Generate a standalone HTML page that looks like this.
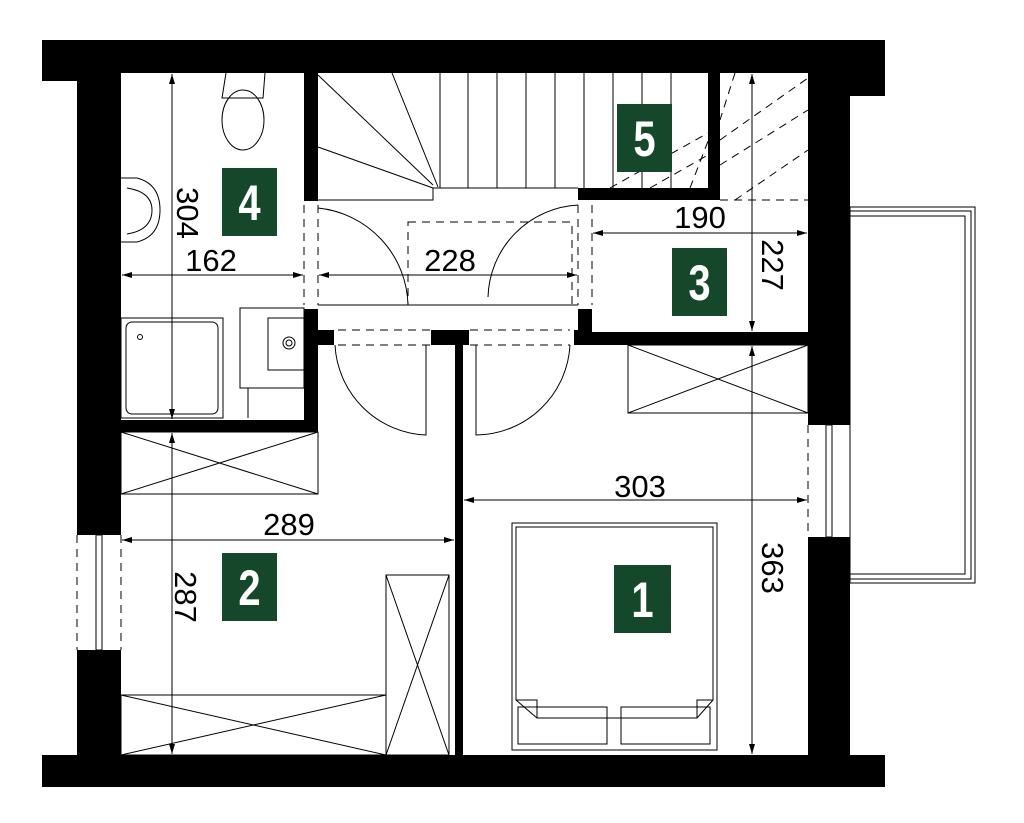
<!DOCTYPE html>
<html><head><meta charset="utf-8"><style>
html,body{margin:0;padding:0;background:#fff;}
svg{display:block;}
text{font-family:"Liberation Sans",sans-serif;}
</style></head><body>
<svg width="1024" height="823" viewBox="0 0 1024 823" xmlns="http://www.w3.org/2000/svg">
<defs>
<marker id="a" viewBox="0 0 10 6" refX="10" refY="3" markerWidth="10" markerHeight="6" orient="auto-start-reverse" markerUnits="userSpaceOnUse"><path d="M0,0 L10,3 L0,6z" fill="#000"/></marker>
</defs>
<g fill="none" stroke="#000" stroke-width="1">
<rect x="850" y="207" width="125" height="376"/>
<rect x="850" y="211" width="121" height="368"/>
<rect x="850" y="216" width="115" height="358"/>
<g>
<line x1="440" y1="73" x2="440" y2="188"/><line x1="468" y1="73" x2="468" y2="188"/><line x1="497" y1="73" x2="497" y2="188"/><line x1="526" y1="73" x2="526" y2="188"/><line x1="555" y1="73" x2="555" y2="188"/><line x1="584" y1="73" x2="584" y2="188"/><line x1="613" y1="73" x2="613" y2="188"/><line x1="642" y1="73" x2="642" y2="188"/><line x1="671" y1="73" x2="671" y2="188"/>
<line x1="318" y1="75" x2="433" y2="185"/><line x1="318" y1="147" x2="433" y2="188"/><line x1="392" y1="73" x2="438" y2="187"/>
<polyline points="318,200 433,200 433,188 578,188"/>
</g>
<g stroke-dasharray="8,6">
<line x1="610" y1="188" x2="708" y2="133"/><line x1="650" y1="188" x2="708" y2="155"/><line x1="690" y1="188" x2="720" y2="110"/>
<line x1="720" y1="140" x2="808" y2="78"/><line x1="720" y1="165" x2="808" y2="110"/><line x1="735" y1="200" x2="808" y2="150"/>
<line x1="720" y1="200" x2="808" y2="200"/>
<line x1="735" y1="73" x2="720" y2="120"/>
<rect x="408" y="222" width="164" height="83"/>
<line x1="304" y1="205" x2="304" y2="305"/><line x1="318" y1="205" x2="318" y2="305"/>
<line x1="578" y1="205" x2="578" y2="305"/><line x1="592" y1="205" x2="592" y2="305"/>
<line x1="338" y1="330" x2="430" y2="330"/><line x1="338" y1="345" x2="430" y2="345"/>
<line x1="470" y1="330" x2="570" y2="330"/><line x1="470" y1="345" x2="570" y2="345"/>
<line x1="77" y1="535" x2="77" y2="650"/><line x1="121" y1="535" x2="121" y2="650"/>
<line x1="808" y1="425" x2="808" y2="537"/><line x1="850" y1="425" x2="850" y2="537"/>
</g>
<line x1="318" y1="305" x2="578" y2="305"/>
<rect x="96" y="535" width="6" height="115"/><rect x="826" y="425" width="6" height="112"/>
<path d="M318,208 A100,100 0 0 1 408,305"/>
<path d="M578,205 A95,95 0 0 0 488,297"/>
<path d="M335,345 A95,95 0 0 0 426,435 L426,345"/>
<path d="M570,345 A95,95 0 0 1 476,435 L476,345"/>
<path d="M226,73 L222,98 L263,98 L265,73"/><ellipse cx="243" cy="120" rx="21" ry="30"/>
<path d="M121,178 L137,178 Q160,184 160,210 Q160,236 137,242 L121,242"/>
<path d="M127,188 Q152,192 152,210 Q152,230 127,234"/>
<rect x="121" y="318" width="102" height="100"/><rect x="126" y="322" width="92" height="92" rx="6"/>
<circle cx="140" cy="337" r="2.5"/>
<rect x="240" y="308" width="64" height="80"/><rect x="268" y="318" width="36" height="52"/>
<circle cx="289" cy="343" r="6"/><circle cx="289" cy="343" r="3"/>
<line x1="248" y1="388" x2="248" y2="418"/>
<rect x="121" y="432" width="197" height="62"/><path d="M121,432 L318,494 M318,432 L121,494"/>
<rect x="121" y="695" width="265" height="60"/><path d="M121,695 L386,755 M386,695 L121,755"/>
<rect x="386" y="575" width="63" height="180"/><path d="M386,575 L449,755 M449,575 L386,755"/>
<rect x="628" y="345" width="180" height="68"/><path d="M628,345 L808,413 M808,345 L628,413"/>
<rect x="512" y="523" width="205" height="227"/>
<path d="M516,527 L713,527 L713,700 L697,718 L537,718 L516,700 Z"/>
<path d="M516,700 L537,700 L537,718 M713,700 L697,700 L697,718"/>
<rect x="518" y="707" width="89" height="37"/><rect x="621" y="707" width="89" height="37"/>
</g>
<g fill="#000">
<rect x="42" y="40" width="843" height="33"/>
<rect x="42" y="73" width="35" height="8"/>
<rect x="850" y="73" width="35" height="23"/>
<rect x="77" y="73" width="44" height="462"/>
<rect x="77" y="650" width="44" height="105"/>
<rect x="42" y="755" width="843" height="32"/>
<rect x="808" y="73" width="42" height="352"/>
<rect x="808" y="537" width="42" height="218"/>
<rect x="304" y="73" width="14" height="128"/>
<rect x="304" y="309" width="14" height="123"/>
<rect x="121" y="420" width="197" height="12"/>
<rect x="318" y="330" width="16" height="15"/>
<rect x="431" y="330" width="38" height="15"/>
<rect x="455" y="345" width="8" height="410"/>
<rect x="574" y="330" width="4" height="15"/>
<rect x="578" y="309" width="14" height="36"/>
<rect x="578" y="332" width="230" height="13"/>
<rect x="578" y="188" width="142" height="12"/>
<rect x="708" y="73" width="12" height="127"/>
</g>
<g stroke="#000" stroke-width="1" marker-start="url(#a)" marker-end="url(#a)">
<line x1="172" y1="74" x2="172" y2="419"/>
<line x1="122" y1="275" x2="303" y2="275"/>
<line x1="319" y1="275" x2="577" y2="275"/>
<line x1="593" y1="233" x2="807" y2="233"/>
<line x1="752" y1="74" x2="752" y2="331"/>
<line x1="752" y1="346" x2="752" y2="754"/>
<line x1="464" y1="500" x2="807" y2="500"/>
<line x1="122" y1="540" x2="454" y2="540"/>
<line x1="172" y1="433" x2="172" y2="754"/>
</g>
<g font-size="31" fill="#000">
<text x="211" y="271" text-anchor="middle">162</text>
<text x="450" y="271" text-anchor="middle">228</text>
<text x="700" y="228" text-anchor="middle">190</text>
<text x="640" y="497" text-anchor="middle">303</text>
<text x="289" y="535" text-anchor="middle">289</text>
<text transform="translate(177,213) rotate(90)" text-anchor="middle">304</text>
<text transform="translate(762,265) rotate(90)" text-anchor="middle">227</text>
<text transform="translate(762,568) rotate(90)" text-anchor="middle">363</text>
<text transform="translate(175,597) rotate(90)" text-anchor="middle">287</text>
</g>
<g fill="#15472b">
<rect x="222" y="168" width="55" height="68"/>
<rect x="617" y="104" width="55" height="68"/>
<rect x="672" y="248" width="55" height="68"/>
<rect x="222" y="553" width="55" height="68"/>
<rect x="614" y="565" width="57" height="68"/>
</g>
<g fill="#fff" font-size="50" font-weight="bold" text-anchor="middle">
<text transform="translate(249.5,220) scale(0.8,1)">4</text>
<text transform="translate(644.5,156) scale(0.8,1)">5</text>
<text transform="translate(699.5,300) scale(0.8,1)">3</text>
<text transform="translate(249.5,605) scale(0.8,1)">2</text>
<text transform="translate(642.5,617) scale(0.8,1)">1</text>
</g>
</svg>
</body></html>
